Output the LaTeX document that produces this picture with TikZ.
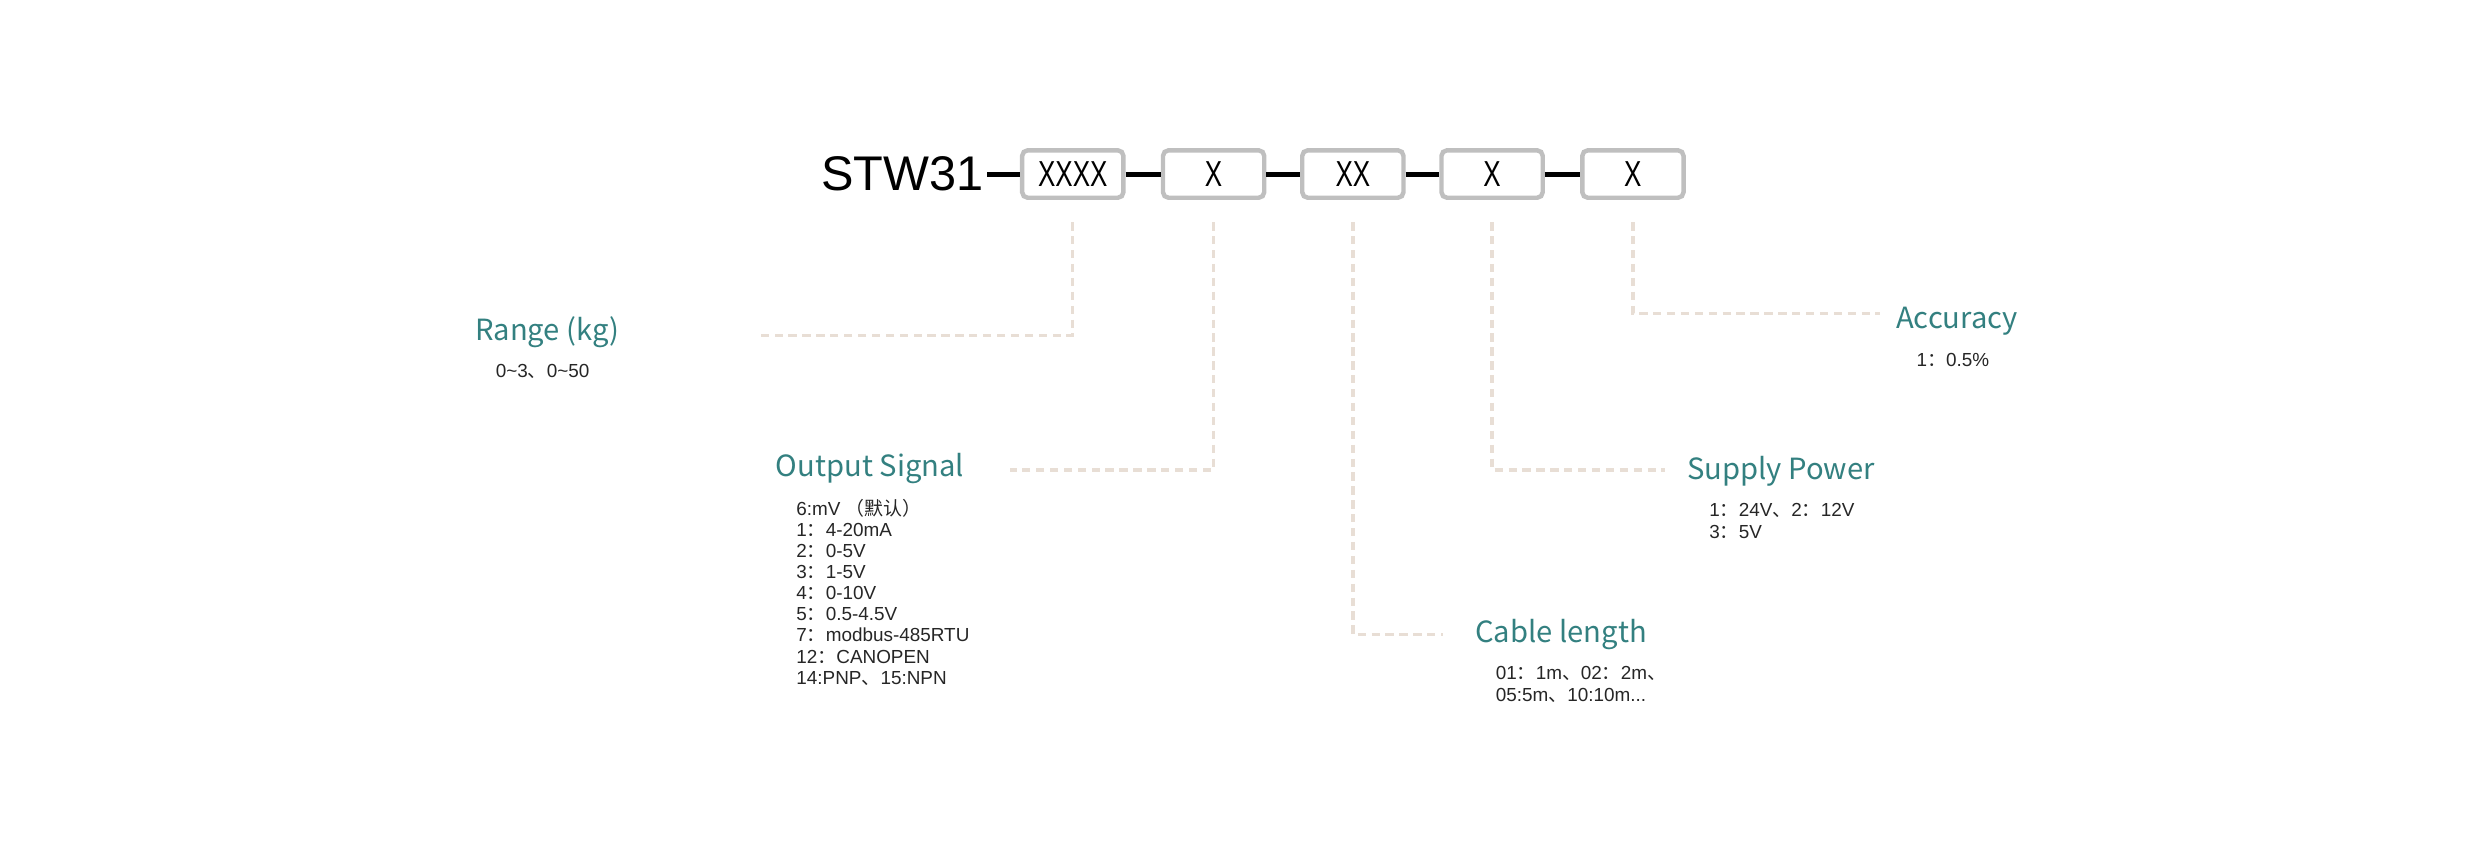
\documentclass[tikz,border=0pt]{standalone}
\usepackage{fontspec}
\setmainfont{Liberation Sans}
\newfontfamily\cjk{Noto Sans CJK SC}
\usetikzlibrary{positioning}

\tikzset{
  code/.style={draw=black!25, line width=1.6pt, rounded corners=2pt, minimum width=1.28cm, minimum height=0.6cm, inner sep=0pt, font=\fontsize{13}{13}\selectfont},
  title/.style={anchor=west, text=teal!60!gray, font=\cjk\fontsize{10.5}{12}\selectfont, inner sep=0pt},
  info/.style={anchor=north west, align=left, font=\fontsize{6.8}{7.6}\selectfont, inner sep=0pt, text=black!85},
  lead/.style={draw=black!28!brown!20, dashed, dash pattern=on 3pt off 2pt, line width=1.2pt},
  link/.style={draw=black, line width=1.8pt}
}
\newcommand{\narrow}[1]{\scalebox{0.72}[1]{#1}}

\begin{document}
\begin{tikzpicture}[x=0.02cm, y=-0.02cm]
\useasboundingbox (0,0) rectangle (1568,543);

% model code
\node[anchor=east, inner sep=0pt, font=\fontsize{17.5}{18}\selectfont] (stw) at (622,110) {STW31};
\node[code] (b1) at (678,110) {\narrow{XXXX}};
\node[code] (b2) at (767,110) {\narrow{X}};
\node[code] (b3) at (855,110) {\narrow{XX}};
\node[code] (b4) at (943,110) {\narrow{X}};
\node[code] (b5) at (1032,110) {\narrow{X}};
\draw[link] (stw.east) ++(2,0) -- (b1.west);
\draw[link] (b1) -- (b2);
\draw[link] (b2) -- (b3);
\draw[link] (b3) -- (b4);
\draw[link] (b4) -- (b5);

% titles
\node[title] (range) at (300,210) {Range (kg)};
\node[title] (output) at (490,296) {Output Signal};
\node[title] (cable) at (932,401) {Cable length};
\node[title] (supply) at (1066,298) {Supply Power};
\node[title] (acc) at (1198,203) {Accuracy};

% details
\node[info] (rangeinfo) at (313,230) {0\textasciitilde3{\cjk 、}0\textasciitilde50};
\node[info] (outinfo) at (503,315) {6:mV {\cjk（默认）}\\1{\cjk：}4-20mA\\2{\cjk：}0-5V\\3{\cjk：}1-5V\\4{\cjk：}0-10V\\5{\cjk：}0.5-4.5V\\7{\cjk：}modbus-485RTU\\12{\cjk：}CANOPEN\\14:PNP{\cjk 、}15:NPN};
\node[info] (cableinfo) at (945,421) {01{\cjk：}1m{\cjk 、}02{\cjk：}2m{\cjk 、}\\05:5m{\cjk 、}10:10m...};
\node[info] (supplyinfo) at (1080,318) {1{\cjk：}24V{\cjk 、}2{\cjk：}12V\\3{\cjk：}5V};
\node[info] (accinfo) at (1211,223) {1{\cjk：}0.5\%};

% leader ends
\coordinate (e1) at (480,212);
\coordinate (e2) at (638,297);
\coordinate (e3) at (912,401);
\coordinate (e4) at (1052,297);
\coordinate (e5) at (1188,198);

\draw[lead] ([yshift=-8pt]b1.south) |- (e1);
\draw[lead] ([yshift=-8pt]b2.south) |- (e2);
\draw[lead] ([yshift=-8pt]b3.south) |- (e3);
\draw[lead] ([yshift=-8pt]b4.south) |- (e4);
\draw[lead] ([yshift=-8pt]b5.south) |- (e5);
\end{tikzpicture}
\end{document}
